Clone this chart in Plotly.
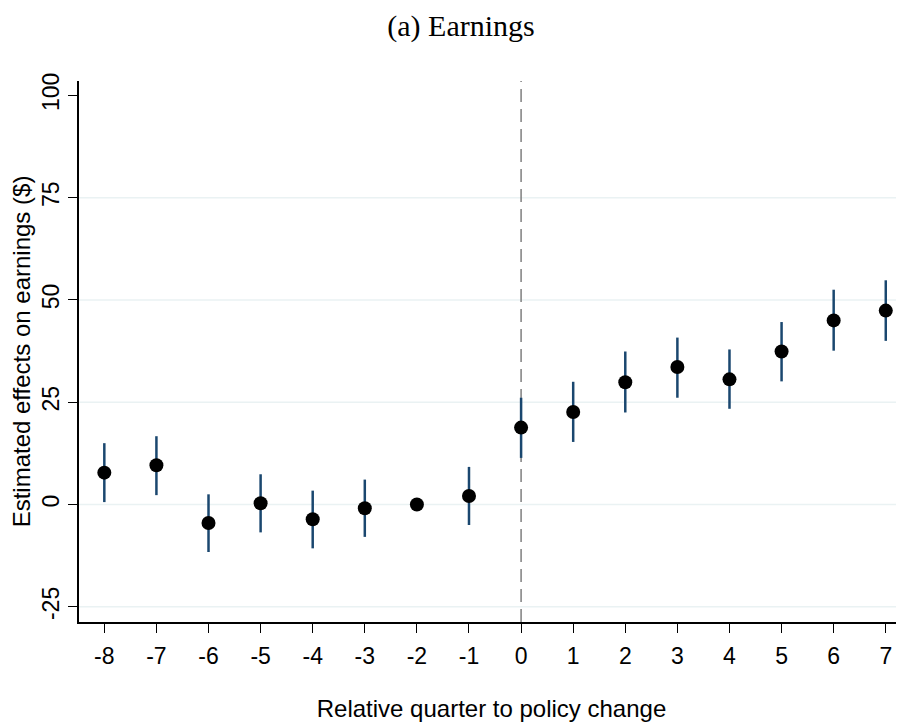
import plotly.graph_objects as go

# event-study estimates
quarters = [-8, -7, -6, -5, -4, -3, -2, -1, 0, 1, 2, 3, 4, 5, 6, 7]
estimate = [7.8, 9.6, -4.5, 0.3, -3.6, -0.9, 0.0, 2.1, 18.8, 22.6, 29.9, 33.6, 30.6, 37.4, 45.0, 47.4]
ci_low = [0.6, 2.3, -11.6, -6.8, -10.7, -7.9, 0.0, -5.0, 11.4, 15.3, 22.5, 26.1, 23.4, 30.1, 37.6, 40.0]
ci_high = [15.0, 16.7, 2.5, 7.4, 3.4, 6.1, 0.0, 9.2, 26.1, 30.0, 37.4, 40.8, 37.9, 44.6, 52.5, 54.8]
y_ticks = [-25, 0, 25, 50, 75, 100]
grid_lines = [-25, 0, 25, 50, 75]

err_up = [h - e for h, e in zip(ci_high, estimate)]
err_down = [e - l for e, l in zip(estimate, ci_low)]

fig = go.Figure()
fig.add_trace(go.Scatter(
    x=quarters, y=estimate, mode='markers',
    marker=dict(color='black', size=14),
    error_y=dict(type='data', symmetric=False, array=err_up, arrayminus=err_down,
                 color='#1a476f', thickness=2.5, width=0),
    showlegend=False,
))

# light gridlines (none at the top tick, like Stata)
for g in grid_lines:
    fig.add_shape(type='line', x0=0, x1=1, y0=g, y1=g, xref='paper', yref='y',
                  line=dict(color='#eaf2f3', width=1.5), layer='below')

# reference line at the policy change
fig.add_shape(type='line', x0=0, x1=0, y0=0, y1=1, xref='x', yref='paper',
              line=dict(color='#7f7f7f', width=1.5, dash='13px,7px'), layer='below')

tick_font = dict(family='Liberation Sans, Arial', size=23, color='black')
title_font = dict(family='Liberation Sans, Arial', size=24, color='black')

# page body adds an 8px margin, so the figure is a bit smaller than the window
fig.update_layout(
    width=896, height=714,
    margin=dict(l=71, r=0, t=73, b=100),
    paper_bgcolor='white', plot_bgcolor='white',
    title=dict(text='(a) Earnings', x=0.5056, xanchor='center', y=0.975, yanchor='middle',
               font=dict(family='Liberation Serif, Times New Roman', size=30, color='black')),
)
fig.update_xaxes(
    range=[-8.486, 7.35], tickvals=quarters, ticktext=[str(q) for q in quarters],
    ticks='outside', ticklen=9, tickwidth=1.2, tickcolor='black', ticklabelstandoff=4,
    showline=True, linecolor='black', linewidth=1.5, showgrid=False, zeroline=False,
    tickfont=tick_font,
    title=dict(text='Relative quarter to policy change', font=title_font, standoff=33),
)
fig.update_yaxes(
    range=[-28.7, 103.5], tickvals=y_ticks, ticktext=[str(t) for t in y_ticks], tickangle=-90,
    ticks='outside', ticklen=9, tickwidth=1.2, tickcolor='black',
    showline=True, linecolor='black', linewidth=1.5, showgrid=False, zeroline=False,
    tickfont=tick_font,
    title=dict(text='Estimated effects on earnings ($)', font=title_font, standoff=2),
)

fig.write_html("out.html")
